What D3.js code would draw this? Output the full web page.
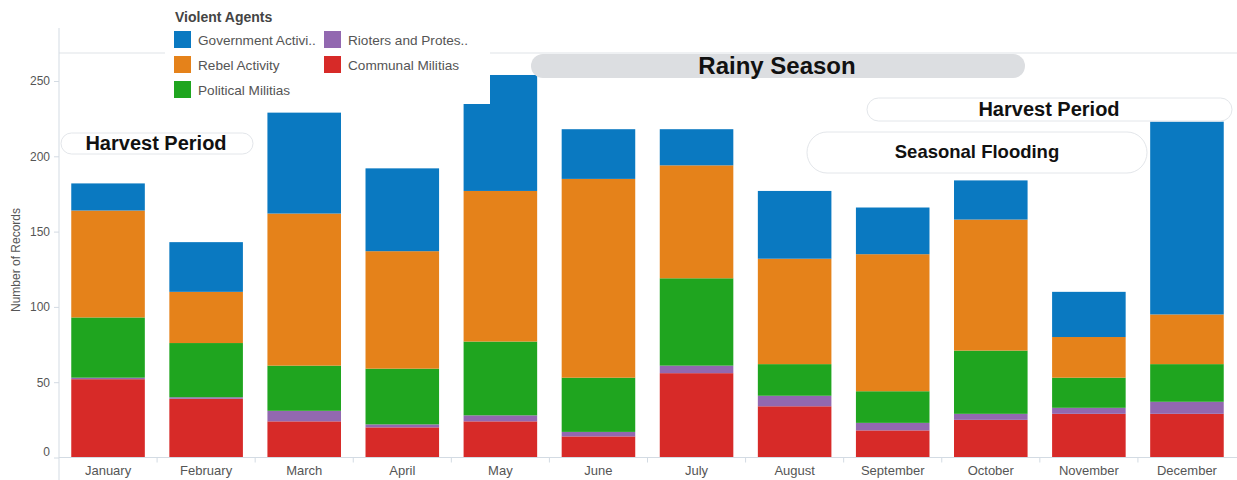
<!DOCTYPE html>
<html>
<head>
<meta charset="utf-8">
<script src="https://cdn.jsdelivr.net/npm/d3@7"></script>
<style>
  html, body { margin: 0; padding: 0; background: #fff; }
  svg { display: block; font-family: Arial, "Liberation Sans", sans-serif; }
</style>
</head>
<body>
<svg id="chart" width="1237" height="480"></svg>
<script>
// Monthly records of violent events, stacked by agent type
const months = ["January", "February", "March", "April", "May", "June",
                "July", "August", "September", "October", "November", "December"];
const communalMilitias = [52, 39, 24, 20, 24, 14, 56, 34, 18, 25, 29, 29];
const riotersProtesters = [1, 1, 7, 2, 4, 3, 5, 7, 5, 4, 4, 8];
const politicalMilitias = [40, 36, 30, 37, 49, 36, 58, 21, 21, 42, 20, 25];
const rebelActivity = [71, 34, 101, 78, 100, 132, 75, 70, 91, 87, 27, 33];
const governmentActivity = [18, 33, 67, 55, 77, 33, 24, 45, 31, 26, 30, 128];
const yTicks = [0, 50, 100, 150, 200, 250];

const seriesDefs = [
  { key: "communal", name: "Communal Militias", values: communalMilitias, color: "#d72a28" },
  { key: "rioters", name: "Rioters and Protes..", values: riotersProtesters, color: "#9268b0" },
  { key: "political", name: "Political Militias", values: politicalMilitias, color: "#1fa51f" },
  { key: "rebel", name: "Rebel Activity", values: rebelActivity, color: "#e5821a" },
  { key: "government", name: "Government Activi..", values: governmentActivity, color: "#0a79c1" }
];

// Build rows for d3.stack
const rows = months.map((m, i) => {
  const r = { month: m };
  seriesDefs.forEach(s => { r[s.key] = s.values[i]; });
  return r;
});

const svg = d3.select("#chart");
const plot = { left: 59, right: 1236, top: 53, bottom: 457.5 };

const x = d3.scaleBand()
  .domain(months)
  .range([plot.left, plot.right])
  .paddingInner(0.25)
  .paddingOuter(0.125);

const y = d3.scaleLinear()
  .domain([0, 268.6])
  .range([plot.bottom, plot.top]);

const stack = d3.stack().keys(seriesDefs.map(s => s.key));
const layers = stack(rows);
const colorOf = Object.fromEntries(seriesDefs.map(s => [s.key, s.color]));

// Frame lines
const axisColor = "#d3dbe3";
svg.append("line")
  .attr("x1", plot.left).attr("x2", 1237)
  .attr("y1", plot.top).attr("y2", plot.top)
  .attr("stroke", "#dfe3e7").attr("stroke-width", 1);

// Stacked bars
svg.append("g")
  .selectAll("g")
  .data(layers)
  .join("g")
  .attr("fill", d => colorOf[d.key])
  .selectAll("rect")
  .data(d => d)
  .join("rect")
  .attr("x", d => x(d.data.month))
  .attr("width", x.bandwidth())
  .attr("y", d => y(d[1]))
  .attr("height", d => y(d[0]) - y(d[1]));

// Y axis
const yAxis = d3.axisLeft(y).tickValues(yTicks).tickSize(5).tickPadding(4);
const gy = svg.append("g").attr("transform", `translate(${plot.left},0)`).call(yAxis);
gy.select(".domain").attr("stroke", axisColor).attr("d", `M0,${plot.top - 25}V480`);
gy.selectAll(".tick line").attr("stroke", axisColor);
gy.selectAll(".tick text").attr("fill", "#555").style("font-size", "12px");
// the zero label sits a little above its tick
gy.selectAll(".tick text").filter(d => d === 0).attr("dy", "-0.2em");

svg.append("text")
  .attr("transform", "translate(20,260) rotate(-90)")
  .attr("text-anchor", "middle")
  .attr("fill", "#555")
  .style("font-size", "12px")
  .text("Number of Records");

// X axis
const xAxis = d3.axisBottom(x).tickSize(0).tickPadding(8);
const gx = svg.append("g").attr("transform", `translate(0,${plot.bottom})`).call(xAxis);
gx.select(".domain").attr("stroke", axisColor).attr("d", `M${plot.left},0H1237`);
gx.selectAll(".tick text").attr("fill", "#555").style("font-size", "13px");
// Dividers between month bands
const bandEdges = months.slice(1).map(m => x(m) - x.step() * x.paddingInner() / 2);
gx.selectAll(".divider")
  .data(bandEdges)
  .join("line")
  .attr("class", "divider")
  .attr("x1", d => d).attr("x2", d => d)
  .attr("y1", 0).attr("y2", 5)
  .attr("stroke", axisColor);

// Legend panel
const legend = svg.append("g");
legend.append("rect")
  .attr("x", 165).attr("y", 0).attr("width", 325).attr("height", 104)
  .attr("fill", "#fff");
legend.append("text")
  .attr("x", 175).attr("y", 22)
  .attr("fill", "#444")
  .style("font-size", "14px").style("font-weight", "bold")
  .text("Violent Agents");

const legendOrder = ["government", "rioters", "rebel", "communal", "political"];
legendOrder.forEach((k, i) => {
  const s = seriesDefs.find(d => d.key === k);
  const col = i % 2, row = Math.floor(i / 2);
  const lx = 174 + col * 150, ly = 31 + row * 25;
  legend.append("rect")
    .attr("x", lx).attr("y", ly).attr("width", 17).attr("height", 17)
    .attr("fill", s.color);
  legend.append("text")
    .attr("x", lx + 24).attr("y", ly + 14)
    .attr("fill", "#555")
    .style("font-size", "13.6px")
    .text(s.name);
});

// Seasonal annotations
const notes = [
  { label: "Rainy Season", x0: 531, x1: 1025, y0: 54, y1: 78, fill: "#dcdee1", stroke: "none", size: 24, cx: 777, by: 74 },
  { label: "Harvest Period", x0: 867, x1: 1232, y0: 98, y1: 121, fill: "#fff", stroke: "#e3e6ea", size: 20, cx: 1049, by: 116 },
  { label: "Seasonal Flooding", x0: 807, x1: 1147, y0: 132, y1: 173, fill: "#fff", stroke: "#e3e6ea", size: 18.5, cx: 977, by: 158 },
  { label: "Harvest Period", x0: 61, x1: 253, y0: 133, y1: 154, fill: "#fff", stroke: "#e3e6ea", size: 20, cx: 156, by: 150 }
];
const ng = svg.append("g");
notes.forEach(n => {
  const h = n.y1 - n.y0;
  ng.append("rect")
    .attr("x", n.x0).attr("y", n.y0)
    .attr("width", n.x1 - n.x0).attr("height", h)
    .attr("rx", Math.min(h / 2, 20)).attr("ry", h / 2)
    .attr("fill", n.fill).attr("stroke", n.stroke);
  ng.append("text")
    .attr("x", n.cx).attr("y", n.by)
    .attr("text-anchor", "middle")
    .attr("fill", "#111")
    .style("font-size", n.size + "px").style("font-weight", "bold")
    .text(n.label);
});
</script>
</body>
</html>
